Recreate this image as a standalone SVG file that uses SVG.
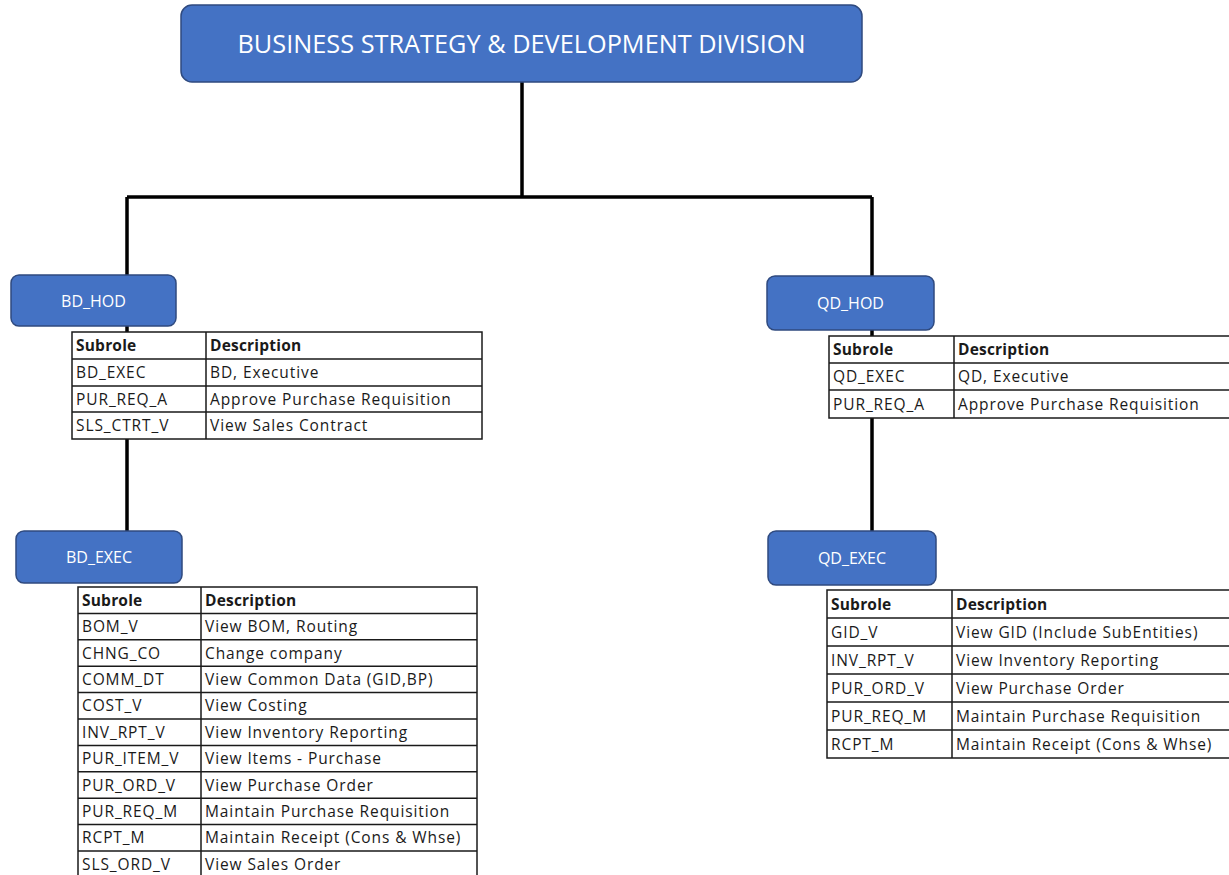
<svg xmlns="http://www.w3.org/2000/svg" width="1229" height="875" viewBox="0 0 1229 875">
<style>
.box{fill:#4472C4;stroke:#2F4A7F;stroke-width:1.5}
.bt{fill:#fff;font-family:"Open Sans","Noto Sans",sans-serif;font-size:16px;text-anchor:middle}
.title{fill:#fff;font-family:"Open Sans","Noto Sans",sans-serif;font-size:25px;text-anchor:middle}
.conn{stroke:#000;stroke-width:3.5;fill:none}
.tb{fill:#fff;stroke:#1a1a1a;stroke-width:1.5}
.tl{stroke:#1a1a1a;stroke-width:1.5}
.tt{fill:#1a1a1a;font-family:"Open Sans","Noto Sans",sans-serif;font-size:15.5px;letter-spacing:0.9px}
.th{fill:#1a1a1a;font-family:"Open Sans","Noto Sans",sans-serif;font-size:15.5px;font-weight:bold;letter-spacing:0.2px}
</style>
<rect width="1229" height="875" fill="#fff"/>
<g id="connectors">
<path class="conn" d="M522 82 V197 M127 197 H872 M127 197 V275 M872 197 V276 M127 326 V531 M872 330 V531"/>
</g>
<g id="division">
<rect class="box" x="181" y="5" width="681" height="77" rx="11"/>
<text class="title" x="521.5" y="53" textLength="568" lengthAdjust="spacingAndGlyphs">BUSINESS STRATEGY &amp; DEVELOPMENT DIVISION</text>
</g>
<g id="bd_hod">
<rect class="box" x="11" y="275" width="165" height="51" rx="8"/>
<text class="bt" x="93.5" y="307">BD_HOD</text>
</g>
<g id="qd_hod">
<rect class="box" x="767" y="276" width="167" height="54" rx="8"/>
<text class="bt" x="850.5" y="309">QD_HOD</text>
</g>
<g id="bd_exec">
<rect class="box" x="16" y="531" width="166" height="52" rx="8"/>
<text class="bt" x="99" y="563">BD_EXEC</text>
</g>
<g id="qd_exec">
<rect class="box" x="768" y="531" width="168" height="54" rx="8"/>
<text class="bt" x="852" y="564">QD_EXEC</text>
</g>
<g id="bd_hod_table">
<rect class="tb" x="72" y="332" width="410" height="107"/>
<path class="tl" d="M72 359 H482 M72 386 H482 M72 412 H482 M206 332 V439"/>
<text class="th" x="76" y="351">Subrole</text><text class="th" x="210" y="351">Description</text>
<text class="tt" x="76" y="378">BD_EXEC</text><text class="tt" x="210" y="378">BD, Executive</text>
<text class="tt" x="76" y="405">PUR_REQ_A</text><text class="tt" x="210" y="405">Approve Purchase Requisition</text>
<text class="tt" x="76" y="431">SLS_CTRT_V</text><text class="tt" x="210" y="431">View Sales Contract</text>
</g>
<g id="qd_hod_table">
<rect class="tb" x="829" y="336" width="420" height="82"/>
<path class="tl" d="M829 363 H1249 M829 390 H1249 M954 336 V418"/>
<text class="th" x="833" y="355">Subrole</text><text class="th" x="958" y="355">Description</text>
<text class="tt" x="833" y="382">QD_EXEC</text><text class="tt" x="958" y="382">QD, Executive</text>
<text class="tt" x="833" y="410">PUR_REQ_A</text><text class="tt" x="958" y="410">Approve Purchase Requisition</text>
</g>
<g id="bd_exec_table">
<rect class="tb" x="78" y="587" width="399" height="300"/>
<path class="tl" d="M78 613.4 H477 M78 639.8 H477 M78 666.2 H477 M78 692.6 H477 M78 719 H477 M78 745.4 H477 M78 771.8 H477 M78 798.2 H477 M78 824.6 H477 M78 851 H477 M201 587 V887"/>
<text class="th" x="82" y="606">Subrole</text><text class="th" x="205" y="606">Description</text>
<text class="tt" x="82" y="632">BOM_V</text><text class="tt" x="205" y="632">View BOM, Routing</text>
<text class="tt" x="82" y="658.5">CHNG_CO</text><text class="tt" x="205" y="658.5">Change company</text>
<text class="tt" x="82" y="685">COMM_DT</text><text class="tt" x="205" y="685">View Common Data (GID,BP)</text>
<text class="tt" x="82" y="711">COST_V</text><text class="tt" x="205" y="711">View Costing</text>
<text class="tt" x="82" y="738">INV_RPT_V</text><text class="tt" x="205" y="738">View Inventory Reporting</text>
<text class="tt" x="82" y="764">PUR_ITEM_V</text><text class="tt" x="205" y="764">View Items - Purchase</text>
<text class="tt" x="82" y="790.5">PUR_ORD_V</text><text class="tt" x="205" y="790.5">View Purchase Order</text>
<text class="tt" x="82" y="817">PUR_REQ_M</text><text class="tt" x="205" y="817">Maintain Purchase Requisition</text>
<text class="tt" x="82" y="843">RCPT_M</text><text class="tt" x="205" y="843">Maintain Receipt (Cons &amp; Whse)</text>
<text class="tt" x="82" y="870">SLS_ORD_V</text><text class="tt" x="205" y="870">View Sales Order</text>
</g>
<g id="qd_exec_table">
<rect class="tb" x="827" y="590" width="422" height="168"/>
<path class="tl" d="M827 618 H1249 M827 646 H1249 M827 674 H1249 M827 702 H1249 M827 730 H1249 M952 590 V758"/>
<text class="th" x="831" y="610">Subrole</text><text class="th" x="956" y="610">Description</text>
<text class="tt" x="831" y="638">GID_V</text><text class="tt" x="956" y="638">View GID (Include SubEntities)</text>
<text class="tt" x="831" y="666">INV_RPT_V</text><text class="tt" x="956" y="666">View Inventory Reporting</text>
<text class="tt" x="831" y="694">PUR_ORD_V</text><text class="tt" x="956" y="694">View Purchase Order</text>
<text class="tt" x="831" y="722">PUR_REQ_M</text><text class="tt" x="956" y="722">Maintain Purchase Requisition</text>
<text class="tt" x="831" y="750">RCPT_M</text><text class="tt" x="956" y="750">Maintain Receipt (Cons &amp; Whse)</text>
</g>
</svg>
